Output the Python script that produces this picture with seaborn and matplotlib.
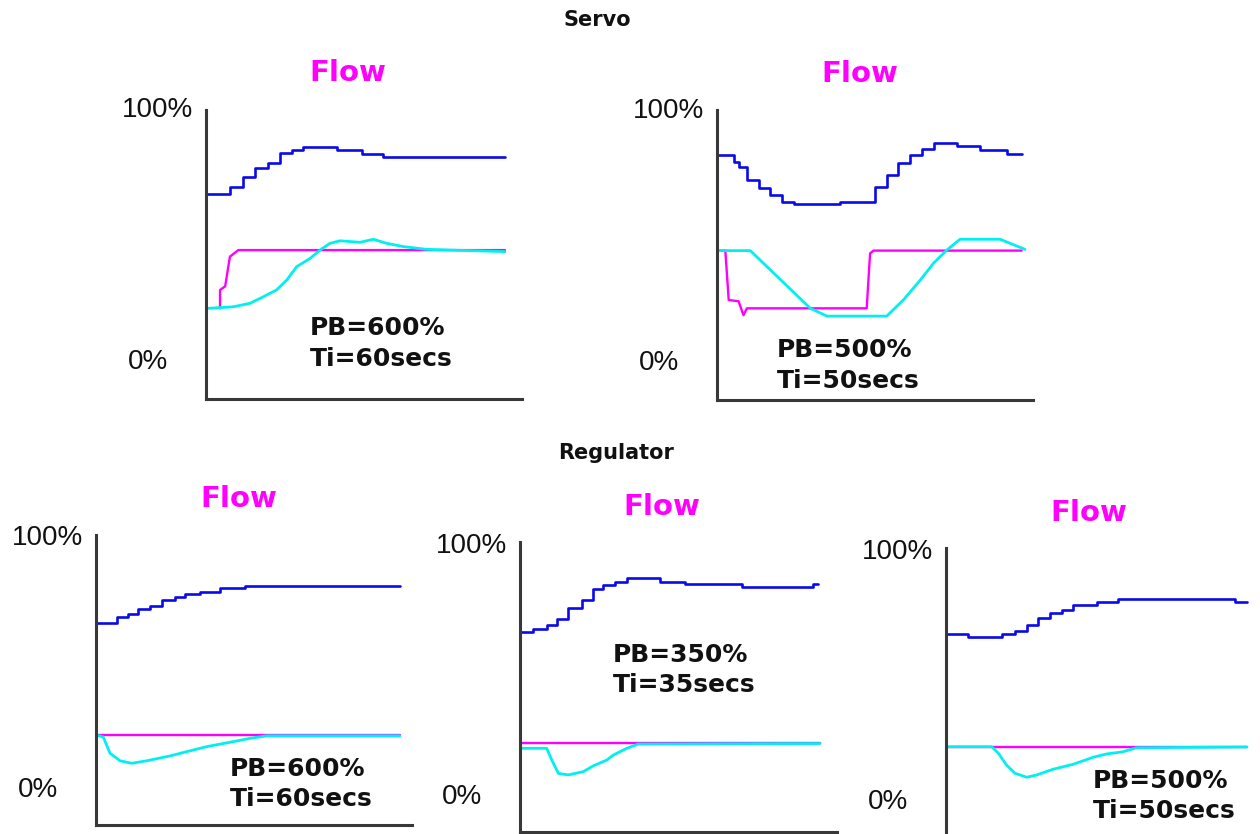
import matplotlib
matplotlib.use("Agg")
import matplotlib.pyplot as plt
import matplotlib.transforms as mtransforms
import seaborn as sns

# ---------------- data (percent of range vs. percent of time span) ----------------
# Servo, PB=600%, Ti=60s
s1_out_x = [0, 8.0, 12.5, 16.4, 20.8, 24.7, 28.7, 32.5, 43.7, 52.1, 59.3, 100]
s1_out_y = [66.7, 69.6, 73.5, 76.8, 78.8, 82.8, 84.1, 85.2, 84.1, 82.5, 81.5, 81.5]
s1_sp_x = [4.7, 4.7, 6.4, 8.0, 10.8, 100]
s1_sp_y = [21.3, 28.6, 30.0, 41.8, 44.4, 44.4]
s1_pv_x = [0.8, 9.1, 14.7, 19.2, 23.6, 27.0, 30.3, 34.8, 38.1, 41.5, 44.8, 51.5, 56.0, 60.4, 66.0, 73.8, 100]
s1_pv_y = [21.3, 21.9, 23.3, 25.9, 28.6, 32.5, 37.8, 41.1, 44.4, 47.1, 48.1, 47.5, 48.7, 47.1, 45.8, 44.7, 43.8]

# Servo, PB=500%, Ti=50s
s2_out_x = [0, 5.4, 7.0, 9.7, 13.5, 17.3, 21.1, 24.9, 40.0, 51.4, 55.1, 58.9, 62.7, 66.5, 70.3, 77.8, 85.4, 94.1, 98.9]
s2_out_y = [82.5, 79.9, 77.9, 72.6, 69.3, 66.7, 64.0, 63.0, 64.0, 70.0, 74.6, 79.2, 82.5, 84.8, 87.2, 86.1, 84.5, 82.8, 82.8]
s2_sp_x = [0, 2.7, 3.8, 7.0, 8.6, 9.7, 48.6, 49.7, 50.8, 98.9]
s2_sp_y = [44.6, 44.6, 25.0, 24.5, 19.0, 21.7, 21.7, 43.5, 44.6, 44.6]
s2_pv_x = [0, 10.8, 30.3, 35.7, 55.1, 60.5, 66.0, 70.3, 74.6, 78.9, 91.9, 100]
s2_pv_y = [44.6, 44.6, 21.7, 18.6, 18.6, 25.0, 32.9, 39.6, 44.8, 49.1, 49.1, 45.1]

# Regulator, PB=600%, Ti=60s
r1_out_x = [0, 6.8, 10.6, 13.9, 17.8, 21.6, 26.0, 29.3, 34.2, 40.8, 49.0, 100]
r1_out_y = [66.1, 68.8, 69.8, 71.7, 73.1, 75.4, 76.7, 77.8, 78.7, 80.0, 81.1, 81.1]
r1_sp_x = [0, 100]
r1_sp_y = [21.8, 21.8]
r1_pv_x = [0.2, 2.4, 4.6, 7.9, 11.7, 16.7, 24.3, 29.8, 36.4, 45.2, 50.7, 56.1, 100]
r1_pv_y = [21.8, 21.0, 14.6, 11.6, 10.6, 11.6, 13.5, 15.2, 17.2, 19.2, 20.5, 21.5, 21.5]

# Regulator, PB=350%, Ti=35s
r2_out_x = [0, 4.4, 8.9, 12.2, 16.1, 20.6, 24.4, 27.8, 31.7, 35.6, 46.7, 55.0, 73.9, 97.8, 99.4]
r2_out_y = [65.6, 67.1, 68.5, 70.8, 75.4, 78.5, 82.7, 84.5, 85.8, 87.1, 85.8, 84.7, 83.8, 84.7, 84.7]
r2_sp_x = [0, 100]
r2_sp_y = [21.6, 21.6]
r2_pv_x = [0, 8.9, 10.6, 12.8, 16.1, 21.1, 24.4, 28.9, 31.1, 35.6, 39.4, 100]
r2_pv_y = [19.4, 19.4, 14.7, 9.4, 8.8, 10.1, 12.4, 14.7, 16.7, 19.4, 21.1, 21.3]

# Regulator, PB=500%, Ti=50s
r3_out_x = [0, 7.4, 18.5, 22.9, 26.8, 30.6, 34.5, 38.4, 42.3, 50.0, 57.2, 95.9, 100]
r3_out_y = [67.2, 66.1, 67.2, 68.4, 70.8, 73.5, 75.5, 76.8, 78.8, 79.9, 81.2, 80.1, 80.1]
r3_sp_x = [0, 100]
r3_sp_y = [22.1, 22.1]
r3_pv_x = [0, 15.2, 17.4, 20.1, 22.9, 26.8, 30.1, 35.6, 42.3, 48.9, 53.3, 58.8, 63.3, 100]
r3_pv_y = [22.1, 22.1, 19.5, 14.8, 11.5, 9.9, 10.8, 13.1, 15.1, 17.9, 19.2, 20.1, 21.7, 22.0]

panel_titles = ["Flow", "Flow", "Flow", "Flow", "Flow"]
pb_labels = ["PB=600%", "PB=500%", "PB=600%", "PB=350%", "PB=500%"]
ti_labels = ["Ti=60secs", "Ti=50secs", "Ti=60secs", "Ti=35secs", "Ti=50secs"]
group_titles = ["Servo", "Regulator"]
ytick_labels = ["100%", "0%"]

series = [
    (s1_out_x, s1_out_y, s1_sp_x, s1_sp_y, s1_pv_x, s1_pv_y),
    (s2_out_x, s2_out_y, s2_sp_x, s2_sp_y, s2_pv_x, s2_pv_y),
    (r1_out_x, r1_out_y, r1_sp_x, r1_sp_y, r1_pv_x, r1_pv_y),
    (r2_out_x, r2_out_y, r2_sp_x, r2_sp_y, r2_pv_x, r2_pv_y),
    (r3_out_x, r3_out_y, r3_sp_x, r3_sp_y, r3_pv_x, r3_pv_y),
]

# ---------------- layout (pixels) ----------------
W, H = 1260, 834
# left spine, bottom-spine end, data end, top, bottom, y(100%), y(0%)
boxes = [
    (206, 522, 505, 110, 399, 110, 362),
    (717, 1033, 1025, 110, 400, 111, 363),
    (96, 412, 400, 535, 825, 538, 790),
    (520, 837, 820, 542, 832, 546, 797),
    (946, 1262, 1247, 548, 850, 552, 802),
]
title_pos = [(348, 73), (860, 74), (239, 499), (662, 507), (1089, 513)]
note_pos = [(310, 328, 359), (777, 350, 381), (230, 769, 799), (613, 655, 685), (1093, 781, 811)]
group_pos = [(597, 20), (616, 453)]

sns.set_theme(style="white")
plt.rcParams["font.family"] = ["DejaVu Sans"]

fig = plt.figure(figsize=(W / 100, H / 100), dpi=100)
fig.patch.set_facecolor("white")

C_OUT = "#0a0ae8"
C_SP = "#ff00ff"
C_PV = "#00f0f0"
C_AX = "#383838"

for i, (box, data) in enumerate(zip(boxes, series)):
    left, right, dend, top, bottom, y100, y0 = box
    ax = fig.add_axes([left / W, 1 - bottom / H, (right - left) / W, (bottom - top) / H])
    ax.set_facecolor("none")
    ox, oy, spx, spy, pvx, pvy = data
    sns.lineplot(x=ox, y=oy, ax=ax, color=C_OUT, lw=1.9, drawstyle="steps-post",
                 estimator=None, sort=False)
    sns.lineplot(x=spx, y=spy, ax=ax, color=C_SP, lw=1.7, estimator=None, sort=False)
    sns.lineplot(x=pvx, y=pvy, ax=ax, color=C_PV, lw=2.0, estimator=None, sort=False)
    ax.set_xlim(0, 100 * (right - left) / (dend - left))
    span = y0 - y100
    ax.set_ylim((y0 - bottom) / span * 100, (y0 - top) / span * 100)
    ax.set_xticks([])
    ax.set_yticks([])
    ax.set_xlabel("")
    ax.set_ylabel("")
    for s in ["top", "right"]:
        ax.spines[s].set_visible(False)
    for s in ["left", "bottom"]:
        ax.spines[s].set_color(C_AX)
        ax.spines[s].set_linewidth(2.2)
    trans = mtransforms.blended_transform_factory(ax.transAxes, ax.transData)
    wpx = right - left
    ax.text(-84 / wpx, 100, ytick_labels[0], transform=trans, ha="left", va="center",
            fontsize=20, color="#111111", family="Liberation Sans", clip_on=False)
    ax.text(-78 / wpx, 0, ytick_labels[1], transform=trans, ha="left", va="center",
            fontsize=20, color="#111111", family="Liberation Sans", clip_on=False)

    tx, ty = title_pos[i]
    fig.text(tx / W, 1 - ty / H, panel_titles[i], ha="center", va="center",
             fontsize=21, fontweight="bold", color=C_SP)
    nx, ny1, ny2 = note_pos[i]
    fig.text(nx / W, 1 - ny1 / H, pb_labels[i], ha="left", va="center",
             fontsize=18, fontweight="bold", color="#111111")
    fig.text(nx / W, 1 - ny2 / H, ti_labels[i], ha="left", va="center",
             fontsize=18, fontweight="bold", color="#111111")

for label, (gx, gy) in zip(group_titles, group_pos):
    fig.text(gx / W, 1 - gy / H, label, ha="center", va="center",
             fontsize=15, fontweight="bold", color="#111111")

fig.savefig("out.png", dpi=100)
